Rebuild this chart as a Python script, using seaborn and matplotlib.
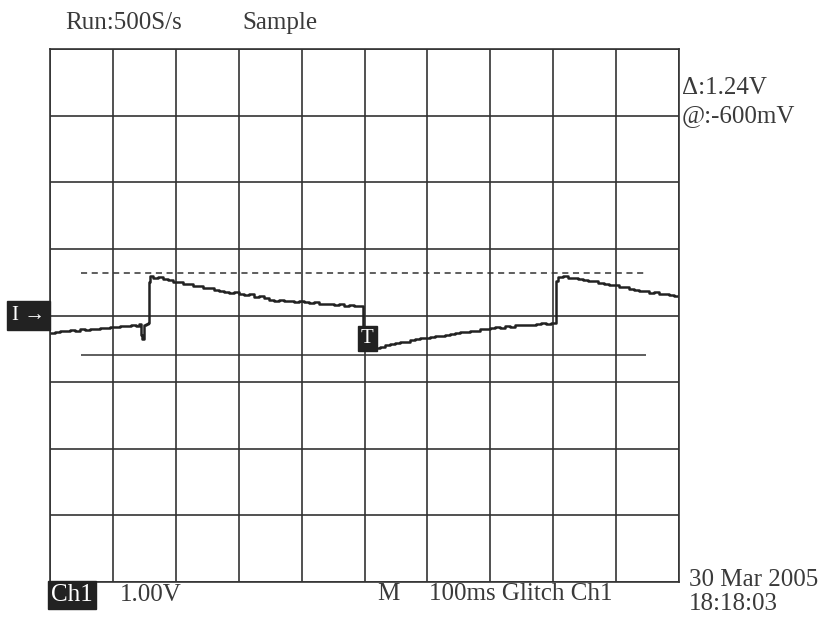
import numpy as np
import pandas as pd
import seaborn as sns
import matplotlib.pyplot as plt
import matplotlib.transforms as mtransforms

# trace: time in ms (trigger at 0), volts (1.00 V/div)
time_ms = [-500, -492, -484, -476, -468, -460, -452, -444, -436, -428, -420, -412,
           -404, -396, -388, -380, -372, -364, -358, -355, -353, -351, -347, -344,
           -343, -341, -336, -328, -320, -312, -304, -296, -288, -280, -272, -264,
           -256, -248, -240, -232, -224, -216, -208, -200, -192, -184, -176, -168,
           -160, -152, -144, -136, -128, -120, -112, -104, -96, -88, -80, -72,
           -64, -56, -48, -40, -32, -24, -16, -8, -3, -2, 4, 8,
           16, 24, 32, 40, 48, 56, 64, 72, 80, 88, 96, 104,
           112, 120, 128, 136, 144, 152, 160, 168, 176, 184, 192, 200,
           208, 216, 224, 232, 240, 248, 256, 264, 272, 280, 288, 296,
           303, 305, 308, 316, 324, 332, 340, 348, 356, 364, 372, 380,
           388, 396, 404, 412, 420, 428, 436, 444, 452, 460, 468, 476,
           484, 492, 500]
volts = [-0.27, -0.25, -0.23, -0.24, -0.22, -0.23, -0.21, -0.22, -0.20, -0.21, -0.19, -0.19,
         -0.17, -0.18, -0.16, -0.16, -0.15, -0.16, -0.13, -0.30, -0.36, -0.15, -0.13, -0.12,
         0.50, 0.59, 0.57, 0.58, 0.55, 0.54, 0.51, 0.50, 0.48, 0.47, 0.44, 0.45,
         0.41, 0.42, 0.38, 0.37, 0.36, 0.34, 0.35, 0.32, 0.31, 0.32, 0.28, 0.29,
         0.26, 0.23, 0.22, 0.23, 0.22, 0.22, 0.21, 0.22, 0.20, 0.19, 0.20, 0.18,
         0.17, 0.18, 0.16, 0.17, 0.15, 0.16, 0.14, 0.14, 0.13, -0.48, -0.52, -0.50,
         -0.49, -0.47, -0.45, -0.43, -0.42, -0.40, -0.40, -0.37, -0.36, -0.34, -0.34, -0.32,
         -0.31, -0.31, -0.29, -0.28, -0.27, -0.25, -0.25, -0.23, -0.23, -0.21, -0.21, -0.19,
         -0.18, -0.19, -0.16, -0.17, -0.15, -0.15, -0.14, -0.14, -0.13, -0.12, -0.13, -0.11,
         -0.11, 0.52, 0.58, 0.59, 0.57, 0.57, 0.55, 0.54, 0.52, 0.52, 0.49, 0.48,
         0.46, 0.46, 0.43, 0.43, 0.40, 0.39, 0.37, 0.37, 0.34, 0.35, 0.33, 0.32,
         0.31, 0.29, 0.28]

cursor_hi = 0.64   # dashed cursor
cursor_lo = -0.60  # solid cursor (@:-600mV)
cursor_span = [-450, 447]

df = pd.DataFrame({'t': time_ms, 'v': volts})

sns.set_style("white")
plt.rcParams['font.family'] = ['Liberation Serif', 'DejaVu Serif']
txt = '#3a3a3a'
W, H = 825, 624

fig = plt.figure(figsize=(8.25, 6.24), dpi=100)
ax = fig.add_axes([50 / W, 1 - 582 / H, 629 / W, 533 / H])

sns.lineplot(data=df, x='t', y='v', ax=ax, color='#222222', linewidth=1.8,
             drawstyle='steps-post', estimator=None, sort=False)

ax.hlines(cursor_hi, cursor_span[0], cursor_span[1], colors='#333333',
          linestyles=(0, (4, 3)), linewidth=1.1)
ax.hlines(cursor_lo, cursor_span[0], cursor_span[1], colors='#333333', linewidth=1.1)

ax.set_xlim(-500, 500)
ax.set_ylim(-4, 4)
ax.set_xticks(np.arange(-500, 501, 100))
ax.set_yticks(np.arange(-4, 5, 1))
ax.grid(True, color='#333333', linewidth=1.2)
ax.tick_params(length=0, labelbottom=False, labelleft=False)
ax.set(xlabel=None, ylabel=None)
for s in ax.spines.values():
    s.set_color('#333333')
    s.set_linewidth(1.2)

# ground marker and trigger marker
blend = mtransforms.blended_transform_factory(ax.transAxes, ax.transData)
ax.text(-0.034, 0, 'I \u2192', transform=blend, ha='center', va='center', color='white',
        fontsize=15, bbox=dict(boxstyle='square,pad=0.22', fc='#222222', ec='#222222'),
        clip_on=False)
ax.text(4, -0.35, 'T', ha='center', va='center', color='white', fontsize=15,
        bbox=dict(boxstyle='square,pad=0.15', fc='#222222', ec='#222222'))


def put(x, y, s, **kw):
    fig.text(x / W, 1 - y / H, s, ha='left', va='center', fontsize=18, color=txt, **kw)


put(65, 23, 'Run:500S/s')
put(242, 23, 'Sample')
put(682, 88, '\u0394:1.24V')
put(682, 116, '@:-600mV')
fig.text(72 / W, 1 - 595 / H, 'Ch1', ha='center', va='center', fontsize=18, color='white',
         bbox=dict(boxstyle='square,pad=0.12', fc='#222222', ec='#222222'))
put(120, 595, '1.00V')
put(377, 594, 'M')
put(429, 594, '100ms Glitch Ch1')
put(689, 580, '30 Mar 2005')
put(689, 604, '18:18:03')

fig.savefig('out.png', dpi=100, facecolor='white')
